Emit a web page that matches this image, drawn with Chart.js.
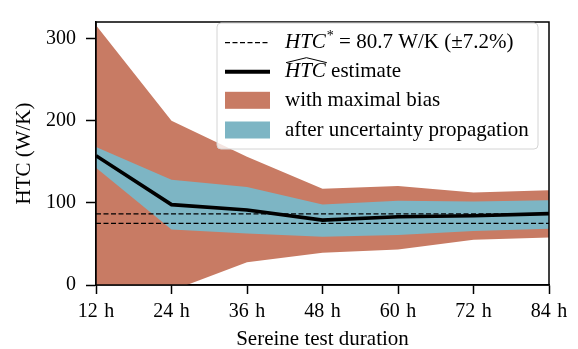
<!DOCTYPE html>
<html>
<head>
<meta charset="utf-8">
<script src="https://cdn.jsdelivr.net/npm/chart.js@4.4.1/dist/chart.umd.min.js"></script>
<style>
  html, body { margin: 0; padding: 0; background: #fff; }
  #wrap { width: 578px; height: 349px; position: relative; }
</style>
</head>
<body>
<div id="wrap"><canvas id="c" width="578" height="349"></canvas></div>
<script>
// ---- data ----
const durations = [12, 24, 36, 48, 60, 72, 84];
const tickValuesY = [0, 100, 200, 300];
const estimate = [157.4, 97.8, 91.2, 79.0, 83.0, 84.2, 86.9];
const uncertUpper = [168, 128, 119.3, 97.8, 102.5, 101.7, 103];
const uncertLower = [142.7, 67.4, 62.7, 58.8, 60.8, 65.8, 68.5];
const biasUpper = [316, 200, 156, 117, 120.5, 112.6, 115.3];
const biasLower = [-30, -7, 27.6, 39.3, 43.3, 55, 57.7];
const refUpper = [86.5, 86.5, 86.5, 86.5, 86.5, 86.5, 86.5];
const refLower = [74.9, 74.9, 74.9, 74.9, 74.9, 74.9, 74.9];

const RED = '#C87B64';
const BLUE = '#7DB5C4';
const FONT = '"Liberation Serif", "DejaVu Serif", serif';
const FS_TICK = 20;
const FS = 21;

const pts = arr => durations.map((d, i) => ({ x: d, y: arr[i] }));

const frameAndLegend = {
  id: 'frameAndLegend',
  afterDraw(chart) {
    const ctx = chart.ctx;
    const a = chart.chartArea;
    ctx.save();
    ctx.strokeStyle = '#000';
    ctx.lineWidth = 1.5;
    ctx.strokeRect(a.left, a.top, a.right - a.left, a.bottom - a.top);

    // legend box
    const lx = 217, ly = 23, lw = 321, lh = 126;
    ctx.beginPath();
    ctx.roundRect(lx, ly, lw, lh, 4);
    ctx.fillStyle = 'rgba(255,255,255,0.8)';
    ctx.fill();
    ctx.strokeStyle = '#d4d4d4';
    ctx.lineWidth = 1;
    ctx.stroke();

    const hx0 = 225, hx1 = 270, tx = 285;
    const rows = [42.7, 71.7, 100.3, 130];
    ctx.fillStyle = '#000';
    ctx.textBaseline = 'middle';
    ctx.textAlign = 'left';

    // row 1: dashed line
    ctx.beginPath();
    ctx.setLineDash([5, 2.5]);
    ctx.lineWidth = 1.2;
    ctx.strokeStyle = '#000';
    ctx.moveTo(hx0, rows[0]); ctx.lineTo(hx1, rows[0]);
    ctx.stroke();
    ctx.setLineDash([]);
    ctx.font = 'italic ' + FS + 'px ' + FONT;
    ctx.fillText('HTC', tx, rows[0]);
    let w = ctx.measureText('HTC').width;
    ctx.font = '14px ' + FONT;
    ctx.fillText('*', tx + w + 1, rows[0] - 6);
    let w2 = ctx.measureText('*').width;
    ctx.font = FS + 'px ' + FONT;
    ctx.fillText(' = 80.7 W/K (±7.2%)', tx + w + w2 + 1, rows[0]);

    // row 2: estimate line
    ctx.beginPath();
    ctx.lineWidth = 4;
    ctx.moveTo(hx0, rows[1]); ctx.lineTo(hx1, rows[1]);
    ctx.stroke();
    ctx.font = 'italic ' + FS + 'px ' + FONT;
    ctx.fillText('HTC', tx, rows[1]);
    w = ctx.measureText('HTC').width;
    ctx.beginPath();
    ctx.lineWidth = 1;
    ctx.moveTo(tx + 1, rows[1] - 9);
    ctx.lineTo(tx + w / 2 + 1, rows[1] - 14);
    ctx.lineTo(tx + w + 1, rows[1] - 9);
    ctx.stroke();
    ctx.font = FS + 'px ' + FONT;
    ctx.fillText(' estimate', tx + w, rows[1]);

    // row 3 & 4: patches
    ctx.fillStyle = RED;
    ctx.fillRect(hx0, rows[2] - 8.5, hx1 - hx0, 17);
    ctx.fillStyle = BLUE;
    ctx.fillRect(hx0, rows[3] - 8.5, hx1 - hx0, 17);
    ctx.fillStyle = '#000';
    ctx.fillText('with maximal bias', tx, rows[2]);
    ctx.fillText('after uncertainty propagation', tx, rows[3]);
    ctx.restore();
  }
};

const lineBase = { pointRadius: 0, pointHoverRadius: 0, tension: 0 };

new Chart(document.getElementById('c'), {
  type: 'line',
  data: {
    datasets: [
      Object.assign({ label: 'estimate', data: pts(estimate), borderColor: '#000', borderWidth: 3.6, fill: false }, lineBase),
      Object.assign({ label: 'ref+', data: pts(refUpper), borderColor: '#000', borderWidth: 1.2, borderDash: [5, 2.5], fill: false }, lineBase),
      Object.assign({ label: 'ref-', data: pts(refLower), borderColor: '#000', borderWidth: 1.2, borderDash: [5, 2.5], fill: false }, lineBase),
      Object.assign({ label: 'unc+', data: pts(uncertUpper), borderColor: 'rgba(0,0,0,0)', borderWidth: 0, backgroundColor: BLUE, fill: '+1' }, lineBase),
      Object.assign({ label: 'unc-', data: pts(uncertLower), borderColor: 'rgba(0,0,0,0)', borderWidth: 0, fill: false }, lineBase),
      Object.assign({ label: 'bias+', data: pts(biasUpper), borderColor: 'rgba(0,0,0,0)', borderWidth: 0, backgroundColor: RED, fill: '+1' }, lineBase),
      Object.assign({ label: 'bias-', data: pts(biasLower), borderColor: 'rgba(0,0,0,0)', borderWidth: 0, fill: false }, lineBase)
    ]
  },
  options: {
    responsive: false,
    animation: false,
    events: [],
    layout: { padding: { top: 12, right: 29, left: 0, bottom: 0 } },
    plugins: { legend: { display: false }, tooltip: { enabled: false } },
    scales: {
      x: {
        type: 'linear', min: 12, max: 84,
        afterFit(s) { s.height = 64; },
        ticks: { stepSize: 12, color: '#000', font: { family: FONT, size: FS_TICK }, padding: 6, maxRotation: 0,
                 callback: v => v + '\u200A h' },
        grid: { drawOnChartArea: false, drawTicks: true, tickLength: 9, color: '#000', tickWidth: 1.5 },
        border: { display: true, color: '#000', width: 1.5 },
        title: { display: true, text: 'Sereine test duration', color: '#000', font: { family: FONT, size: FS, lineHeight: 1 }, padding: { top: 0, bottom: -1 } }
      },
      y: {
        type: 'linear', min: 0, max: 320,
        afterFit(s) { s.width = 96; },
        afterBuildTicks(s) { s.ticks = tickValuesY.map(v => ({ value: v })); },
        ticks: { color: '#000', font: { family: FONT, size: FS_TICK }, padding: 10 },
        grid: { drawOnChartArea: false, drawTicks: true, tickLength: 10, color: '#000', tickWidth: 1.5 },
        border: { display: true, color: '#000', width: 1.5 },
        title: { display: true, text: 'HTC (W/K)', color: '#000', font: { family: FONT, size: FS, lineHeight: 1 }, padding: { top: 14, bottom: 0 } }
      }
    }
  },
  plugins: [frameAndLegend]
});
</script>
</body>
</html>
